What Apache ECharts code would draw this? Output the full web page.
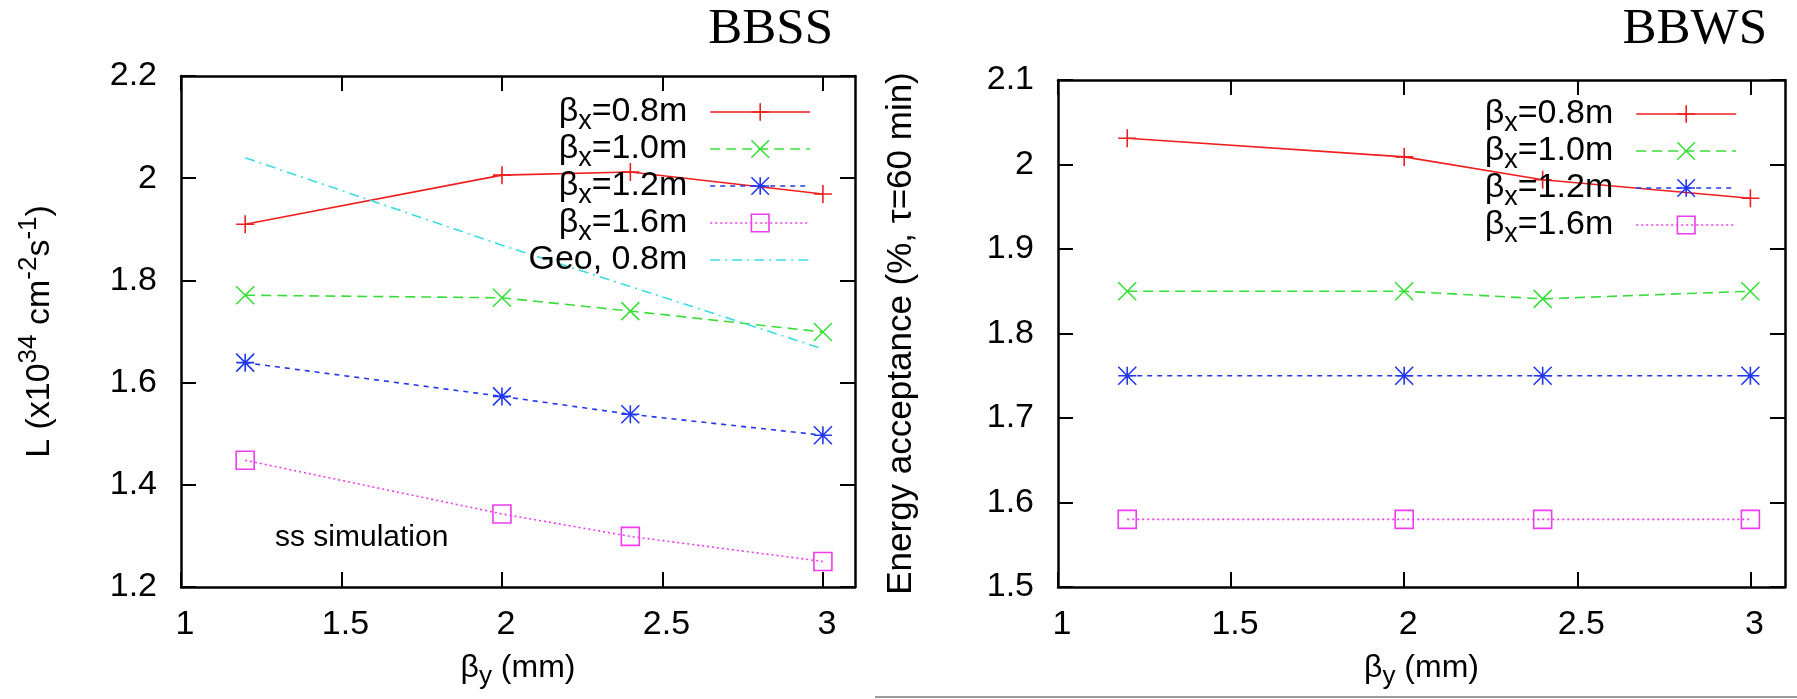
<!DOCTYPE html>
<html>
<head>
<meta charset="utf-8">
<script src="https://cdn.jsdelivr.net/npm/echarts@6/dist/echarts.min.js"></script>
<style>
html,body{margin:0;padding:0;background:#fff;}
#c{width:1797px;height:699px;}
</style>
</head>
<body>
<div id="c"></div>
<script>
// ---------- data ----------
const xValues = [1.2, 2.0, 2.4, 3.0];               // beta_y (mm)
const xTickValues = [1, 1.5, 2, 2.5, 3];
const seriesNames = ['βx=0.8m', 'βx=1.0m', 'βx=1.2m', 'βx=1.6m', 'Geo, 0.8m'];

// Left panel (BBSS): luminosity, x10^34 cm^-2 s^-1
const lumi08  = [1.910, 2.006, 2.012, 1.969];
const lumi10  = [1.771, 1.766, 1.740, 1.699];
const lumi12  = [1.639, 1.573, 1.538, 1.497];
const lumi16  = [1.448, 1.343, 1.299, 1.250];
const lumiGeo = [2.040, 1.869, 1.788, 1.666];

// Right panel (BBWS): energy acceptance (%)
const acc08 = [2.031, 2.009, 1.982, 1.960];
const acc10 = [1.850, 1.850, 1.841, 1.850];
const acc12 = [1.750, 1.750, 1.750, 1.750];
const acc16 = [1.580, 1.580, 1.580, 1.580];

const panelTitles = ['BBSS', 'BBWS'];
const annotation = 'ss simulation';

// ---------- styling ----------
const FONT = 'Liberation Sans';
const SYM_PLUS = 'path://M0,-1L0,1M-1,0L1,0';
const SYM_X    = 'path://M-1,-1L1,1M-1,1L1,-1';
const SYM_STAR = 'path://M0,-1L0,1M-1,0L1,0M-1,-1L1,1M-1,1L1,-1';
const SYM_SQ   = 'path://M-1,-1L1,-1L1,1L-1,1Z';

const styles = {
  'βx=0.8m':  {color: '#f01e1e', dash: 'solid',       symbol: SYM_PLUS, fill: '#f01e1e'},
  'βx=1.0m':  {color: '#38de38', dash: [10, 6],       symbol: SYM_X,    fill: '#38de38'},
  'βx=1.2m':  {color: '#2238ee', dash: [5, 5],        symbol: SYM_STAR, fill: '#2238ee'},
  'βx=1.6m':  {color: '#ee3cee', dash: [2, 3],        symbol: SYM_SQ,   fill: 'rgba(0,0,0,0)'},
  'Geo, 0.8m':{color: '#3cdce4', dash: [10, 5, 2, 5], symbol: 'circle', fill: 'rgba(0,0,0,0)'}
};

function mkSeries(name, panel, ys) {
  const st = styles[name];
  const isGeo = name.indexOf('Geo') === 0;
  return {
    type: 'line',
    name: name,
    xAxisIndex: panel * 2,
    yAxisIndex: panel * 2,
    data: xValues.map((x, i) => [x, ys[i]]),
    symbol: st.symbol,
    symbolSize: 18,
    showSymbol: !isGeo,
    lineStyle: {color: st.color, width: 1.6, type: st.dash},
    itemStyle: {color: st.fill, borderColor: isGeo ? 'rgba(0,0,0,0)' : st.color, borderWidth: 1.6},
    emphasis: {disabled: true},
    silent: true
  };
}

const tickFont = {fontFamily: FONT, fontSize: 34, color: '#000'};

function mkX(grid, pos, main) {
  return {
    type: 'value', gridIndex: grid, position: pos,
    min: 1, max: 3.1, interval: 0.5,
    axisLine: {show: true, onZero: false, lineStyle: {color: '#000', width: 2.5}},
    axisTick: {show: true, inside: true, length: 15, customValues: xTickValues, lineStyle: {color: '#000', width: 2}},
    axisLabel: Object.assign({show: main, margin: 21, customValues: xTickValues, padding: [0, 0, 0, 8]}, tickFont),
    splitLine: {show: false},
    name: main ? '{b|β}{s|y}{b| (mm)}' : '',
    nameLocation: 'middle', nameGap: 59, nameMoveOverlap: false,
    nameTextStyle: {
      rich: {
        b: {fontFamily: FONT, fontSize: 32, lineHeight: 44, color: '#000'},
        s: {fontFamily: FONT, fontSize: 26, verticalAlign: 'bottom', color: '#000'}
      }
    }
  };
}

function mkY(grid, pos, main, min, max, interval, name, gap, fs) {
  return {
    type: 'value', gridIndex: grid, position: pos,
    min: min, max: max, interval: interval,
    axisLine: {show: true, onZero: false, lineStyle: {color: '#000', width: 2.5}},
    axisTick: {show: true, inside: true, length: 15, lineStyle: {color: '#000', width: 2}},
    axisLabel: Object.assign({show: main, margin: 24, padding: [8, 0, 0, 0]}, tickFont),
    splitLine: {show: false},
    name: main ? name : '',
    nameLocation: 'middle', nameGap: gap, nameMoveOverlap: false,
    nameTextStyle: {
      rich: {
        b: {fontFamily: FONT, fontSize: fs || 34, lineHeight: 48, color: '#000'},
        p: {fontFamily: FONT, fontSize: 26, verticalAlign: 'top', color: '#000'}
      }
    }
  };
}

const legendRich = {
  b: {fontFamily: FONT, fontSize: 34, lineHeight: 34, color: '#000'},
  s: {fontFamily: FONT, fontSize: 27, height: 15, verticalAlign: 'bottom', color: '#000'},
  g: {width: 18}
};
function legendFmt(name) {
  if (name.indexOf('βx') === 0) return '{b|β}{s|x}{b|' + name.slice(2) + '}{g| }';
  return '{b|' + name + '}{g| }';
}
function mkLegend(names, right, top) {
  return {
    data: names, orient: 'vertical', align: 'right',
    right: right, top: top, padding: 0,
    itemWidth: 100, itemHeight: 22, itemGap: -3,
    selectedMode: false,
    formatter: legendFmt,
    textStyle: {rich: legendRich, fontFamily: FONT, fontSize: 34, color: '#000'},
    lineStyle: {width: 1.6},
    itemStyle: {borderWidth: 1.6}
  };
}

const option = {
  animation: false,
  backgroundColor: '#fff',
  textStyle: {fontFamily: FONT, color: '#000'},
  grid: [
    {left: 181, top: 76, width: 674, height: 511, containLabel: false, outerBoundsMode: 'none'},
    {left: 1058, top: 80, width: 727, height: 507, containLabel: false, outerBoundsMode: 'none'}
  ],
  xAxis: [mkX(0, 'bottom', true), mkX(0, 'top', false), mkX(1, 'bottom', true), mkX(1, 'top', false)],
  yAxis: [
    mkY(0, 'left', true, 1.2, 2.2, 0.2, '{b|L (x10}{p|34}{b| cm}{p|-2}{b|s}{p|-1}{b|)}', 117, 34),
    mkY(0, 'right', false, 1.2, 2.2, 0.2, '', 0),
    mkY(1, 'left', true, 1.5, 2.1, 0.1, '{b|Energy acceptance (%, τ=60 min)}', 133, 35),
    mkY(1, 'right', false, 1.5, 2.1, 0.1, '', 0)
  ],
  legend: [
    mkLegend(seriesNames, 986, 95),
    mkLegend(seriesNames.slice(0, 4), 60, 97)
  ],
  series: [
    mkSeries(seriesNames[0], 0, lumi08),
    mkSeries(seriesNames[1], 0, lumi10),
    mkSeries(seriesNames[2], 0, lumi12),
    mkSeries(seriesNames[3], 0, lumi16),
    mkSeries(seriesNames[4], 0, lumiGeo),
    mkSeries(seriesNames[0], 1, acc08),
    mkSeries(seriesNames[1], 1, acc10),
    mkSeries(seriesNames[2], 1, acc12),
    mkSeries(seriesNames[3], 1, acc16)
  ],
  graphic: [
    {type: 'text', right: 1797 - 833, top: 4,
     style: {text: panelTitles[0], font: '51px "Liberation Serif"', fill: '#000'}},
    {type: 'text', right: 1797 - 1767, top: 4,
     style: {text: panelTitles[1], font: '51px "Liberation Serif"', fill: '#000'}},
    {type: 'text', left: 275, top: 523,
     style: {text: annotation, font: '30px "Liberation Sans"', fill: '#000'}},
    {type: 'line', silent: true,
     shape: {x1: 875, y1: 697, x2: 1797, y2: 697},
     style: {stroke: '#9a9a9a', lineWidth: 2}}
  ]
};

const chart = echarts.init(document.getElementById('c'), null, {renderer: 'canvas'});
chart.setOption(option);
</script>
</body>
</html>
